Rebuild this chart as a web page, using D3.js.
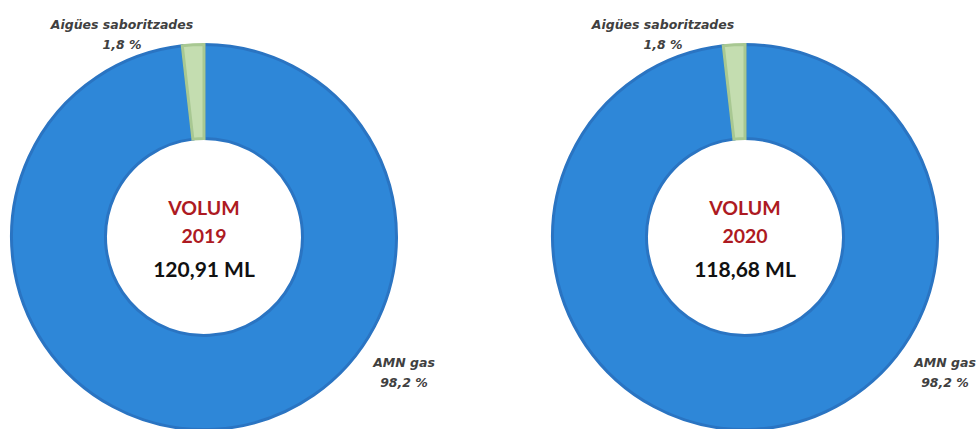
<!DOCTYPE html>
<html>
<head>
<meta charset="utf-8">
<script src="https://cdn.jsdelivr.net/npm/d3@7"></script>
<style>
  html, body { margin: 0; padding: 0; background: #ffffff; }
  svg { display: block; }
  text { font-family: Lato, "Open Sans", sans-serif; }
  text.slice-label { font-family: "DejaVu Sans", "Open Sans", sans-serif; }
</style>
</head>
<body>
<svg id="chart" width="976" height="429"></svg>
<script>
// Water volume by type, per year
const categories = ["AMN gas", "Aigües saboritzades"];
const years = ["2019", "2020"];
const shares2019 = [98.2, 1.8];
const shares2020 = [98.2, 1.8];
const volumeLabels = ["120,91 ML", "118,68 ML"];
const shareLabels2019 = ["98,2 %", "1,8 %"];
const shareLabels2020 = ["98,2 %", "1,8 %"];

const series = [shares2019, shares2020];
const shareLabels = [shareLabels2019, shareLabels2020];

const fills = { "AMN gas": "#2e87d8", "Aigües saboritzades": "#c4ddb0" };
const strokes = { "AMN gas": "#2a74c2", "Aigües saboritzades": "#a8c892" };

const svg = d3.select("#chart");
const centersX = d3.scalePoint().domain(years).range([204, 745]);
const cy = 237;
const outerR = 194;
const innerR = 97;

const pie = d3.pie().sort(null).value(d => d.value);
const arc = d3.arc().innerRadius(innerR + 1.5).outerRadius(outerR - 1.5);

years.forEach((yr, i) => {
  const g = svg.append("g").attr("transform", `translate(${centersX(yr)},${cy})`);
  const data = categories.map((c, k) => ({ cat: c, value: series[i][k], label: shareLabels[i][k] }));
  const arcs = pie(data);

  g.selectAll("path.slice")
    .data(arcs)
    .join("path")
    .attr("class", "slice")
    .attr("d", arc)
    .attr("fill", d => fills[d.data.cat])
    .attr("stroke", d => strokes[d.data.cat])
    .attr("stroke-width", 3)
    .attr("stroke-linejoin", "miter");

  // slice labels, placed outside the ring
  const labelOffsets = { "AMN gas": [200, 130], "Aigües saboritzades": [-82, -208] };
  arcs.forEach(a => {
    const [dx, dy] = labelOffsets[a.data.cat];
    const t = g.append("text")
      .attr("class", "slice-label")
      .attr("text-anchor", "middle")
      .attr("font-size", 12.5)
      .attr("font-weight", 700)
      .attr("font-style", "italic")
      .attr("fill", "#404040");
    t.append("tspan").attr("x", dx).attr("y", dy).text(a.data.cat);
    t.append("tspan").attr("x", dx).attr("y", dy + 20).text(a.data.label);
  });

  // centre caption
  g.append("text").attr("text-anchor", "middle").attr("y", -22)
    .attr("font-size", 19.5).attr("font-weight", 700).attr("fill", "#ad1a22").text("VOLUM");
  g.append("text").attr("text-anchor", "middle").attr("y", 6)
    .attr("font-size", 19.5).attr("font-weight", 700).attr("fill", "#ad1a22").text(yr);
  g.append("text").attr("text-anchor", "middle").attr("y", 40)
    .attr("font-size", 21).attr("font-weight", 700).attr("fill", "#111111").text(volumeLabels[i]);
});
</script>
</body>
</html>
